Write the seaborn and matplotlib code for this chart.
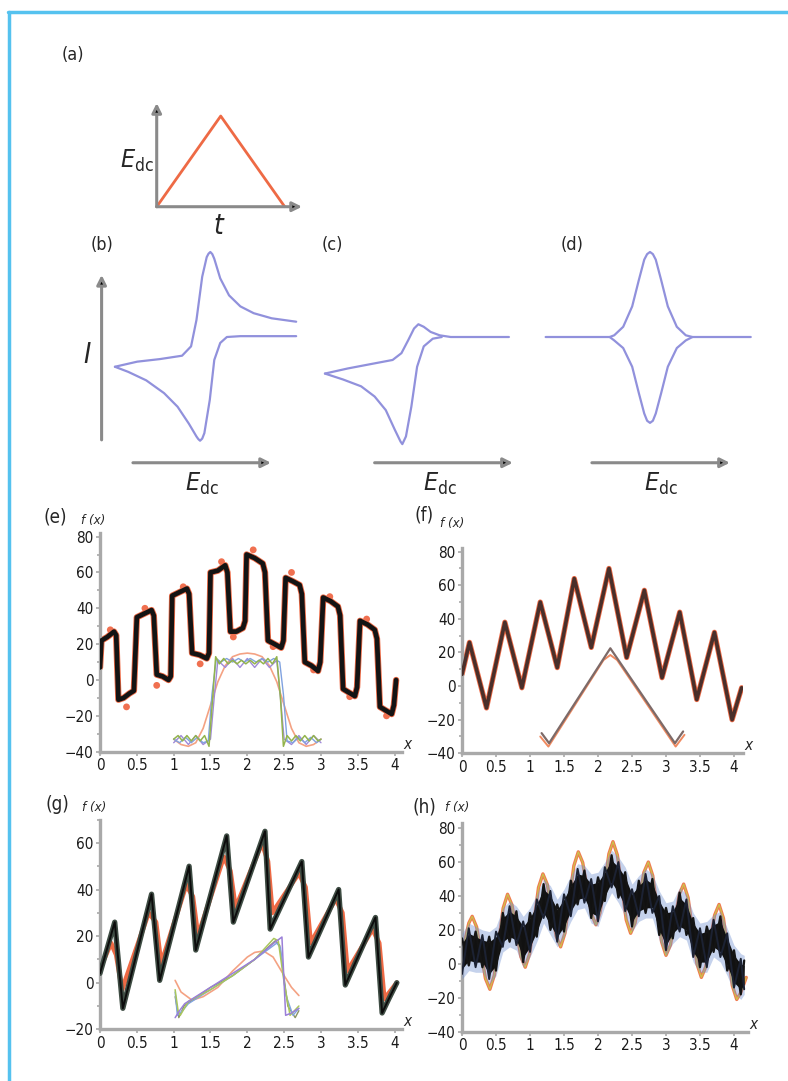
import matplotlib
matplotlib.use("Agg")
import matplotlib.pyplot as plt
import seaborn as sns
from matplotlib import font_manager
from matplotlib.lines import Line2D
from matplotlib.ticker import MultipleLocator

# ---------------- data ----------------
# (a) potential ramp
a_t = [0, 1, 2]
a_e = [0, 1, 0]

# (b)-(d) voltammograms, E and I in arbitrary units
b_up_e = [0, 0.124, 0.249, 0.373, 0.423, 0.453, 0.485, 0.510, 0.520, 0.530, 0.541, 0.552, 0.585, 0.634, 0.697, 0.771, 0.871, 1.007]
b_up_i = [-0.35, -0.29, -0.26, -0.22, -0.11, 0.20, 0.71, 0.94, 0.98, 1.0, 0.975, 0.92, 0.69, 0.49, 0.36, 0.28, 0.22, 0.18]
b_lo_e = [0, 0.074, 0.174, 0.273, 0.348, 0.411, 0.453, 0.463, 0.473, 0.485, 0.497, 0.527, 0.552, 0.585, 0.622, 0.697, 1.007]
b_lo_i = [-0.35, -0.41, -0.51, -0.66, -0.82, -1.02, -1.17, -1.20, -1.22, -1.195, -1.13, -0.74, -0.27, -0.07, 0.0, 0.01, 0.01]

c_up_e = [0.0, 0.127, 0.251, 0.376, 0.425, 0.462, 0.495, 0.519, 0.549, 0.587, 0.637, 0.699, 1.022]
c_up_i = [-0.43, -0.37, -0.32, -0.27, -0.19, -0.04, 0.10, 0.15, 0.12, 0.06, 0.02, 0.0, 0.0]
c_lo_e = [0.0, 0.101, 0.201, 0.276, 0.338, 0.388, 0.420, 0.430, 0.450, 0.480, 0.512, 0.549, 0.599, 0.649]
c_lo_i = [-0.43, -0.50, -0.58, -0.70, -0.86, -1.09, -1.23, -1.26, -1.17, -0.82, -0.35, -0.11, -0.02, 0.0]

d_up_e = [-0.58, -0.224, -0.199, -0.149, -0.099, -0.062, -0.032, -0.016, 0, 0.016, 0.032, 0.062, 0.099, 0.149, 0.199, 0.236, 0.56]
d_up_i = [0, 0, 0.02, 0.12, 0.36, 0.67, 0.91, 0.975, 1.0, 0.975, 0.91, 0.67, 0.36, 0.12, 0.02, 0, 0]
d_lo_e = [-0.224, -0.199, -0.149, -0.099, -0.062, -0.032, -0.016, 0, 0.016, 0.032, 0.062, 0.099, 0.149, 0.199, 0.236]
d_lo_i = [0, -0.04, -0.13, -0.35, -0.66, -0.90, -0.985, -1.01, -0.985, -0.90, -0.66, -0.35, -0.13, -0.04, 0]

# (e) square wave on a triangle
e_x = [0.0, 0.02, 0.10, 0.19, 0.22, 0.25, 0.32, 0.40, 0.46, 0.50, 0.60, 0.70, 0.73, 0.77, 0.85, 0.93, 0.96,
       0.98, 1.08, 1.18, 1.21, 1.25, 1.35, 1.45, 1.48, 1.50, 1.60, 1.70, 1.73, 1.77, 1.85, 1.94, 1.97,
       1.99, 2.10, 2.21, 2.24, 2.28, 2.37, 2.46, 2.49, 2.52, 2.62, 2.71, 2.74, 2.78, 2.87, 2.96, 2.99,
       3.03, 3.13, 3.23, 3.26, 3.30, 3.38, 3.46, 3.49, 3.53, 3.63, 3.73, 3.76, 3.80, 3.88, 3.96, 3.99, 4.02]
e_y = [7, 22, 24, 27, 25, -11, -10, -7.5, -6, 35, 37, 39, 36, 3, 2, 0, 2,
       47, 49, 51, 48, 15, 14, 12, 15, 60, 61, 64, 60, 27, 27, 29, 33,
       70, 68, 65, 60, 22, 20, 18, 22, 57, 55, 53, 48, 10, 8, 5, 10,
       46, 44, 41, 36, -5, -7, -9, -4, 33, 31, 28, 23, -15, -17, -19, -14, 0]
e_dot_x = [0.14, 0.36, 0.61, 0.77, 1.13, 1.36, 1.65, 1.81, 2.08, 2.35, 2.60, 2.90, 3.12, 3.39, 3.62, 3.89]
e_dot_y = [28, -15, 40, -3, 52, 9, 66, 24, 72.6, 18.6, 60, 5.6, 46.5, -9.3, 34, -20]

e_in_orange_x = [1.0, 1.1, 1.2, 1.3, 1.4, 1.5, 1.6, 1.7, 1.8, 1.9, 2.0, 2.1, 2.2, 2.3, 2.4, 2.5, 2.6, 2.7, 2.8, 2.9, 3.0]
e_in_orange_y = [-33, -36, -37, -35, -27, -14, -1, 8, 13, 14.5, 15, 14.5, 13, 8, -1, -14, -27, -35, -37, -36, -33]
e_in_green_x = [1.0, 1.06, 1.12, 1.18, 1.24, 1.30, 1.36, 1.42, 1.48, 1.53, 1.57, 1.62, 1.68, 1.74, 1.80, 1.86, 1.92, 1.98,
                2.04, 2.10, 2.16, 2.22, 2.28, 2.34, 2.40, 2.45, 2.49, 2.54, 2.60, 2.66, 2.72, 2.78, 2.84, 2.90, 2.96, 3.0]
e_in_green_y = [-33, -31, -34, -31, -34, -31, -34, -31, -37, -10, 13, 9, 12, 9, 11, 9, 11, 9,
                11, 9, 11, 9, 12, 9, 13, -10, -37, -31, -34, -31, -34, -31, -34, -31, -34, -33]
e_in_blue_x = [1.0, 1.08, 1.16, 1.24, 1.32, 1.40, 1.47, 1.52, 1.58, 1.64, 1.72, 1.80, 1.88, 1.96,
               2.04, 2.12, 2.20, 2.28, 2.36, 2.44, 2.49, 2.54, 2.62, 2.70, 2.78, 2.86, 2.94, 3.0]
e_in_blue_y = [-33, -35, -32, -35, -32, -35, -34, -8, 12, 10, 12, 10, 12, 10,
               12, 10, 12, 10, 12, 10, -8, -34, -35, -32, -35, -32, -35, -33]
e_in_purple_x = [1.0, 1.1, 1.2, 1.3, 1.4, 1.5, 1.55, 1.6, 1.7, 1.8, 1.9, 2.0, 2.1, 2.2, 2.3, 2.4, 2.45, 2.5, 2.6, 2.7, 2.8, 2.9, 3.0]
e_in_purple_y = [-35, -31, -36, -31, -36, -33, -10, 11, 7, 12, 7, 12, 7, 12, 7, 11, -10, -33, -36, -31, -36, -31, -35]

# (f) triangle wave on a triangle
f_x = [0.0, 0.11, 0.36, 0.63, 0.88, 1.15, 1.40, 1.65, 1.90, 2.16, 2.42, 2.68, 2.94, 3.20, 3.45, 3.71, 3.97, 4.11]
f_y = [7, 26, -13, 38, -1, 50, 11, 64, 23, 70, 17, 57, 5, 44, -8, 32, -20, -1]
f_in_x = [1.17, 1.28, 2.18, 3.13, 3.25]
f_in_y = [-28, -34, 22.5, -34, -27]
f_in_or_x = [1.15, 1.27, 2.08, 2.18, 2.28, 3.14, 3.27]
f_in_or_y = [-30, -36, 15.5, 18.5, 15.5, -36, -29]

# (g) sawtooth on a triangle
g_x = [0.0, 0.20, 0.31, 0.70, 0.81, 1.21, 1.30, 1.72, 1.81, 2.24, 2.31, 2.74, 2.83, 3.24, 3.33, 3.74, 3.83, 3.92, 4.03]
g_y = [4, 26, -11, 38, 1, 50, 14, 63, 26, 65, 23, 52, 11, 40, -1, 28, -13, -7, 0]
g_red_x = [0.0, 0.15, 0.22, 0.30, 0.66, 0.76, 0.83, 1.17, 1.26, 1.33, 1.68, 1.77, 1.84, 2.20, 2.28, 2.34,
           2.70, 2.79, 2.86, 3.20, 3.29, 3.36, 3.70, 3.79, 3.86, 4.03]
g_red_y = [6, 17, 12, -3, 30, 26, 8, 42, 37, 20, 54, 48, 32, 60, 52, 30,
           47, 41, 17, 36, 30, 5, 23, 17, -7, 0]
g_in_orange_x = [1.02, 1.1, 1.25, 1.4, 1.6, 1.8, 2.0, 2.1, 2.22, 2.35, 2.5, 2.6, 2.7]
g_in_orange_y = [1, -4, -7.5, -6, -2, 5, 11, 13, 13.6, 11, 3, -2, -5.5]
g_in_green_x = [1.02, 1.06, 1.09, 1.2, 1.5, 1.8, 2.1, 2.36, 2.42, 2.5, 2.58, 2.7]
g_in_green_y = [-3, -12, -14, -8, -3, 3, 10, 19, 18, 0, -14, -10]
g_in_purple_x = [1.02, 1.08, 1.15, 1.5, 1.8, 2.1, 2.36, 2.47, 2.52, 2.6, 2.7]
g_in_purple_y = [-15, -12, -9, -2, 4, 10, 17, 19.6, -14, -13, -11]
g_in_blue_x = [1.02, 1.05, 1.12, 1.2, 1.5, 1.8, 2.1, 2.4, 2.45, 2.52, 2.62, 2.7]
g_in_blue_y = [-4, -14, -12, -9, -3, 3, 10, 17, 15, -5, -14, -11]
g_in_olive_x = [1.02, 1.07, 1.14, 1.5, 1.8, 2.1, 2.38, 2.44, 2.55, 2.65, 2.7]
g_in_olive_y = [-6, -15, -10, -2, 3, 10, 18, 16, -10, -15, -12]

# (h) sinusoid on a triangle, plus noisy reconstruction band
h_sin_x = [0.0, 0.05, 0.10, 0.15, 0.215, 0.28, 0.345, 0.41, 0.475, 0.54, 0.605, 0.67, 0.735, 0.80, 0.865, 0.93,
           0.995, 1.06, 1.125, 1.19, 1.255, 1.32, 1.385, 1.45, 1.515, 1.58, 1.645, 1.71, 1.775, 1.84, 1.905, 1.97,
           2.03, 2.10, 2.16, 2.22, 2.285, 2.35, 2.415, 2.48, 2.545, 2.61, 2.675, 2.74, 2.805, 2.87, 2.935, 3.0,
           3.065, 3.13, 3.195, 3.26, 3.325, 3.39, 3.455, 3.52, 3.585, 3.65, 3.715, 3.78, 3.845, 3.91, 3.975, 4.04,
           4.10, 4.18]
h_sin_y = [6, 15, 24, 28, 21.7, 6.5, -8.7, -15, -6.8, 13, 32.8, 41, 34.7, 19.5, 4.3, -2,
           6, 25.5, 45, 53, 46.7, 31.5, 16.3, 10, 18.2, 38, 57.8, 66, 59.7, 44.5, 29.3, 23,
           30.2, 47.5, 64.8, 72, 64.1, 45, 25.9, 18, 24.1, 39, 53.9, 60, 52, 32.5, 13, 5,
           11.1, 26, 40.9, 47, 39, 19.5, 0, -8, -1.7, 13.5, 28.7, 35, 26.8, 7, -12.8, -21,
           -17, -8]
h_band_x = [0.0, 0.1, 0.2, 0.3, 0.4, 0.5, 0.6, 0.7, 0.8, 0.9, 1.0, 1.1, 1.2, 1.3, 1.4, 1.5, 1.6, 1.7, 1.8, 1.9,
            2.0, 2.1, 2.2, 2.3, 2.4, 2.5, 2.6, 2.7, 2.8, 2.9, 3.0, 3.1, 3.2, 3.3, 3.4, 3.5, 3.6, 3.7, 3.8, 3.9,
            4.0, 4.1, 4.15]
h_band_hi = [15, 21, 19, 17, 16, 19, 30, 34, 31, 25, 30, 38, 47, 43, 35, 41, 49, 56, 55, 50,
             51, 57, 64, 60, 54, 44, 49, 53, 50, 40, 33, 34, 42, 38, 27, 21, 22, 26, 28, 18,
             8, 3, 2]
h_band_lo = [-6, -1, -2, -2, -9, -4, 10, 13, 11, 1, 7, 16, 27, 20, 13, 19, 28, 35, 36, 27,
             25, 37, 45, 39, 31, 22, 28, 30, 30, 17, 8, 15, 19, 17, 4, -2, -2, 7, 4, -4,
             -14, -18, -15]

X_TICKS = [0, 0.5, 1, 1.5, 2, 2.5, 3, 3.5, 4]
X_TICK_LABELS = ["0", "0.5", "1", "1.5", "2", "2.5", "3", "3.5", "4"]

# ---------------- style ----------------
sns.set_theme(style="white")
_fonts = font_manager.fontManager.ttflist
_narrow = [f.name for f in _fonts if "Narrow" in f.name or "Condensed" in f.name
           or str(f.stretch) in ("condensed", "semi-condensed", "extra-condensed")]
NARROW = _narrow[0] if _narrow else "Roboto"
plt.rcParams["font.family"] = [NARROW, "DejaVu Sans"]
plt.rcParams["font.stretch"] = "condensed"
plt.rcParams["mathtext.fontset"] = "custom"
plt.rcParams["mathtext.rm"] = NARROW
plt.rcParams["mathtext.it"] = NARROW + ":italic"

AXIS_GREY = "#a9a9a9"
CV_BLUE = "#9191dc"
RED = "#ee6a45"

W, H = 788, 1081
fig = plt.figure(figsize=(W / 100, H / 100), dpi=100)
fig.patch.set_facecolor("white")


def px_axes(x0, y0, x1, y1):
    return fig.add_axes([x0 / W, 1 - y1 / H, (x1 - x0) / W, (y1 - y0) / H])


def ftext(px, py, s, **kw):
    fig.text(px / W, 1 - py / H, s, ha="center", va="center", **kw)


def line(ax, x, y, color, lw, z=2):
    sns.lineplot(x=x, y=y, ax=ax, color=color, linewidth=lw, sort=False, estimator=None,
                 errorbar=None, zorder=z, legend=False, solid_joinstyle="round")


def arrow(ax, start, end):
    ax.annotate("", xy=end, xytext=start,
                arrowprops=dict(arrowstyle="-|>", ec="#8a8a8a", fc="black", lw=2.2,
                                mutation_scale=14, shrinkA=0, shrinkB=0))


def plot_frame(ax, xlim, ylim, yticks):
    ax.set_xlim(*xlim)
    ax.set_ylim(*ylim)
    ax.set_facecolor("none")
    ax.set_xlabel("")
    ax.set_ylabel("")
    for s in ("top", "right"):
        ax.spines[s].set_visible(False)
    for s in ("left", "bottom"):
        ax.spines[s].set_color(AXIS_GREY)
        ax.spines[s].set_linewidth(2.4)
    ax.set_xticks(X_TICKS, X_TICK_LABELS)
    ax.set_yticks(yticks, [str(v).replace("-", "\u2212") for v in yticks])
    ax.yaxis.set_minor_locator(MultipleLocator(10))
    ax.tick_params(which="both", bottom=True, left=True, direction="out", length=3, width=1.2,
                   color=AXIS_GREY, labelsize=11, pad=1.5, labelcolor="#1a1a1a")
    ax.tick_params(which="minor", length=2)
    ax.text(1.005, 0.0, "x", transform=ax.transAxes, ha="left", va="bottom",
            fontstyle="italic", fontsize=11)


# blue frame of the figure box
fig.add_artist(Line2D([8 / W, 1], [1 - 12 / H, 1 - 12 / H], color="#55c2ef", lw=2.5, transform=fig.transFigure))
fig.add_artist(Line2D([9 / W, 9 / W], [1 - 12 / H, 0], color="#55c2ef", lw=2.5, transform=fig.transFigure))

# ---- (a) ----
ax = px_axes(100, 95, 310, 240)
line(ax, a_t, a_e, RED, 2.0)
arrow(ax, (0, 0), (0, 1.143))
arrow(ax, (0, 0), (2.27, 0))
ax.text(-0.31, 0.5, r"$E_{\mathrm{dc}}$", ha="center", va="center", fontsize=18)
ax.text(0.96, -0.21, "t", ha="center", va="center", fontsize=20, fontstyle="italic")
ax.set_xlim(-0.886, 2.395)
ax.set_ylim(-0.367, 1.232)
ax.set_axis_off()
ftext(73, 55, "(a)", fontsize=13)

# ---- (b), (c), (d) ----
I_LIM = (-1.976, 1.141)
ax = px_axes(80, 240, 305, 505)
line(ax, b_up_e, b_up_i, CV_BLUE, 1.6)
line(ax, b_lo_e, b_lo_i, CV_BLUE, 1.6)
arrow(ax, (-0.074, -1.21), (-0.074, 0.73))
arrow(ax, (0.10, -1.479), (0.867, -1.479))
ax.text(-0.156, -0.21, "I", ha="center", va="center", fontsize=20, fontstyle="italic")
ax.text(0.483, -1.73, r"$E_{\mathrm{dc}}$", ha="center", va="center", fontsize=18)
ax.set_xlim(-0.194, 1.056)
ax.set_ylim(*I_LIM)
ax.set_axis_off()

ax = px_axes(310, 240, 535, 505)
line(ax, c_up_e, c_up_i, CV_BLUE, 1.6)
line(ax, c_lo_e, c_lo_i, CV_BLUE, 1.6)
arrow(ax, (0.276, -1.479), (1.044, -1.479))
ax.text(0.639, -1.73, r"$E_{\mathrm{dc}}$", ha="center", va="center", fontsize=18)
ax.set_xlim(-0.083, 1.167)
ax.set_ylim(*I_LIM)
ax.set_axis_off()

ax = px_axes(530, 240, 770, 505)
line(ax, d_up_e, d_up_i, CV_BLUE, 1.6)
line(ax, d_lo_e, d_lo_i, CV_BLUE, 1.6)
arrow(ax, (-0.323, -1.479), (0.444, -1.479))
ax.text(0.061, -1.73, r"$E_{\mathrm{dc}}$", ha="center", va="center", fontsize=18)
ax.set_xlim(-0.667, 0.667)
ax.set_ylim(*I_LIM)
ax.set_axis_off()

ftext(102, 245, "(b)", fontsize=13)
ftext(332, 245, "(c)", fontsize=13)
ftext(572, 245, "(d)", fontsize=13)

# ---- (e) ----
ax = px_axes(100, 533, 402, 751.7)
line(ax, e_x, e_y, RED, 4.6, z=2)
sns.scatterplot(x=e_dot_x, y=e_dot_y, ax=ax, color="#f07050", s=24, edgecolor="none", zorder=2, legend=False)
line(ax, e_x, e_y, "#141414", 3.4, z=3)
line(ax, e_in_orange_x, e_in_orange_y, "#f4a283", 1.2, z=4)
line(ax, e_in_purple_x, e_in_purple_y, "#a08ad8", 1.0, z=4)
line(ax, e_in_blue_x, e_in_blue_y, "#80a2e0", 1.0, z=4)
line(ax, e_in_green_x, e_in_green_y, "#93b44c", 1.1, z=5)
plot_frame(ax, (0, 4.1), (-40, 82), [-40, -20, 0, 20, 40, 60, 80])
ftext(55, 517, "(e)", fontsize=13.5)
ftext(93, 520, "f (x)", fontsize=9.5, fontstyle="italic")

# ---- (f) ----
ax = px_axes(462, 548.3, 743, 753.3)
line(ax, f_x, f_y, RED, 3.8, z=2)
line(ax, f_x, f_y, "#4a2f2a", 2.6, z=3)
line(ax, f_in_or_x, f_in_or_y, "#f08a60", 1.4, z=4)
line(ax, f_in_x, f_in_y, "#7d6a68", 1.6, z=4)
plot_frame(ax, (0, 4.13), (-40, 82), [-40, -20, 0, 20, 40, 60, 80])
ftext(424, 515, "(f)", fontsize=13.5)
ftext(452, 524, "f (x)", fontsize=9.5, fontstyle="italic")

# ---- (g) ----
ax = px_axes(100, 819.6, 402, 1029.3)
line(ax, g_red_x, g_red_y, RED, 3.4, z=2)
line(ax, g_x, g_y, "#3e4c43", 3.8, z=3)
line(ax, g_x, g_y, "#0c0c0c", 1.4, z=3)
line(ax, g_in_orange_x, g_in_orange_y, "#f4a283", 1.2, z=4)
line(ax, g_in_olive_x, g_in_olive_y, "#8b9460", 1.0, z=4)
line(ax, g_in_blue_x, g_in_blue_y, "#80a2e0", 1.0, z=4)
line(ax, g_in_green_x, g_in_green_y, "#a9c65c", 1.1, z=4)
line(ax, g_in_purple_x, g_in_purple_y, "#9a7fd8", 1.1, z=5)
plot_frame(ax, (0, 4.1), (-20, 70), [-20, 0, 20, 40, 60])
ftext(57, 805, "(g)", fontsize=13.5)
ftext(94, 807, "f (x)", fontsize=9.5, fontstyle="italic")

# ---- (h) ----
ax = px_axes(462, 823, 747.6, 1031.7)
line(ax, h_sin_x, h_sin_y, "#f07a50", 2.4, z=2)
line(ax, h_sin_x, h_sin_y, "#c9c64a", 0.8, z=2)
ax.fill_between(h_band_x, [v - 3 for v in h_band_lo], [v + 3 for v in h_band_hi],
                color="#6f8fd0", alpha=0.4, lw=0, zorder=3)
ax.fill_between(h_band_x, [v + 3 for v in h_band_lo], [v - 3 for v in h_band_hi],
                color="#111111", lw=0, zorder=4)
# noisy texture: zigzag between the band edges, two phases
zig_a = [h_band_hi[i] if i % 2 == 0 else h_band_lo[i] for i in range(len(h_band_x))]
zig_b = [h_band_lo[i] if i % 2 == 0 else h_band_hi[i] for i in range(len(h_band_x))]
line(ax, h_band_x, zig_a, "#141414", 1.6, z=4)
line(ax, h_band_x, zig_b, "#1c2233", 1.4, z=4)
plot_frame(ax, (0, 4.2), (-40, 83), [-40, -20, 0, 20, 40, 60, 80])
ftext(424, 807, "(h)", fontsize=13.5)
ftext(457, 807, "f (x)", fontsize=9.5, fontstyle="italic")

fig.savefig("out.png", dpi=100, facecolor="white")
